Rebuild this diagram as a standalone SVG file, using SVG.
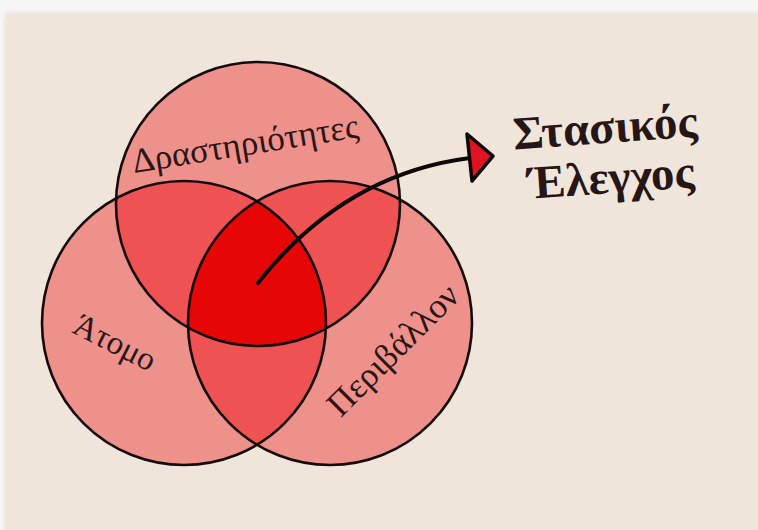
<svg xmlns="http://www.w3.org/2000/svg" width="758" height="530" viewBox="0 0 758 530">
<style>
.ring{fill:none;stroke:#140c0c;stroke-width:2.6}
.one{fill:#EE918B}
.two{fill:#EE5253}
.three{fill:#E60606}
.lbl{font-family:"Liberation Serif","DejaVu Serif",serif;fill:#2a1616}
.ttl{font-family:"Liberation Serif","DejaVu Serif",serif;font-weight:bold;fill:#261616;font-size:47px}
</style>
<defs>
<clipPath id="cT"><circle cx="258" cy="204" r="142"/></clipPath>
<clipPath id="cL"><circle cx="184" cy="323" r="142"/></clipPath>
<clipPath id="cR"><circle cx="330" cy="323" r="142"/></clipPath>
<filter id="sh" x="-5%" y="-5%" width="110%" height="110%"><feDropShadow dx="0" dy="0" stdDeviation="3" flood-color="#000" flood-opacity="0.12"/></filter>
</defs>
<rect x="0" y="0" width="758" height="530" fill="#f7f7f7"/>
<rect x="6" y="14" width="760" height="530" fill="#F0E5DA" filter="url(#sh)"/>

<g id="fills">
<circle class="one" cx="258" cy="204" r="142"/>
<circle class="one" cx="184" cy="323" r="142"/>
<circle class="one" cx="330" cy="323" r="142"/>
<g clip-path="url(#cT)"><circle class="two" cx="184" cy="323" r="142"/><circle class="two" cx="330" cy="323" r="142"/></g>
<g clip-path="url(#cL)"><circle class="two" cx="330" cy="323" r="142"/></g>
<g clip-path="url(#cT)"><g clip-path="url(#cL)"><circle class="three" cx="330" cy="323" r="142"/></g></g>
</g>

<g id="node-drastiriotites">
<circle class="ring" cx="258" cy="204" r="142"/>
<text class="lbl" font-size="35" transform="translate(247,155) rotate(-9)" text-anchor="middle">Δραστηριότητες</text>
</g>
<g id="node-atomo">
<circle class="ring" cx="184" cy="323" r="142"/>
<text class="lbl" font-size="33" transform="translate(110,352) rotate(27)" text-anchor="middle">Άτομο</text>
</g>
<g id="node-perivallon">
<circle class="ring" cx="330" cy="323" r="142"/>
<text class="lbl" font-size="35" transform="translate(401,358) rotate(-45)" text-anchor="middle">Περιβάλλον</text>
</g>

<g id="connectors">
<path d="M258,283 C295,236 360,172 470,158" fill="none" stroke="#0e0808" stroke-width="4" stroke-linecap="round"/>
<polygon points="467,134 493,156 472,181" fill="#DF1420" stroke="#0e0808" stroke-width="3.5" stroke-linejoin="round"/>
</g>

<g id="node-title">
<text class="ttl" transform="translate(606,143) rotate(-4)" text-anchor="middle">Στασικός</text>
<text class="ttl" transform="translate(612,193) rotate(-4)" text-anchor="middle">Έλεγχος</text>
</g>
</svg>
